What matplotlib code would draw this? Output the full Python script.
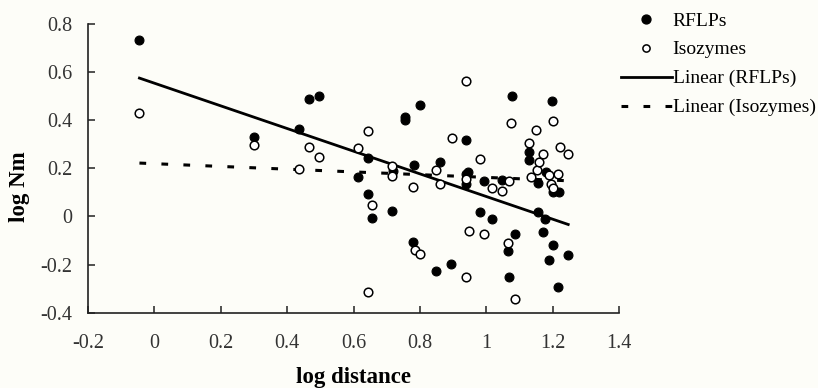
import matplotlib
matplotlib.use("Agg")
import matplotlib.pyplot as plt
import numpy as np
from matplotlib.lines import Line2D

plt.rcParams['font.family'] = ['Liberation Serif', 'DejaVu Serif']

# --- data ---
rflp_x = [-0.045, 0.300, 0.436, 0.466, 0.495, 0.614, 0.643, 0.643, 0.655, 0.716,
          0.718, 0.755, 0.755, 0.783, 0.800, 0.778, 0.850, 0.862, 0.895, 0.940,
          0.944, 0.940, 0.939, 0.980, 0.993, 1.016, 1.046, 1.066, 1.070, 1.079,
          1.087, 1.130, 1.130, 1.156, 1.156, 1.171, 1.178, 1.181, 1.188, 1.198,
          1.200, 1.200, 1.216, 1.220, 1.247]
rflp_y = [0.735, 0.332, 0.362, 0.487, 0.500, 0.166, 0.241, 0.093, -0.006, 0.021,
          0.190, 0.415, 0.400, 0.216, 0.462, -0.105, -0.226, 0.226, -0.196, 0.319,
          0.185, 0.175, 0.133, 0.017, 0.146, -0.011, 0.150, -0.145, -0.250, 0.501,
          -0.071, 0.270, 0.235, 0.140, 0.019, -0.066, -0.010, 0.183, -0.180, 0.482,
          -0.120, 0.100, -0.293, 0.100, -0.160]

iso_x = [-0.045, 0.300, 0.436, 0.466, 0.495, 0.614, 0.643, 0.655, 0.643, 0.717,
         0.717, 0.778, 0.784, 0.800, 0.850, 0.862, 0.896, 0.939, 0.940, 0.947,
         0.938, 0.980, 0.994, 1.016, 1.048, 1.066, 1.068, 1.076, 1.086, 1.130,
         1.136, 1.153, 1.150, 1.160, 1.171, 1.190, 1.195, 1.202, 1.215, 1.221,
         1.247, 1.200]
iso_y = [0.432, 0.295, 0.197, 0.288, 0.249, 0.286, 0.354, 0.049, -0.313, 0.211,
         0.168, 0.121, -0.138, -0.157, 0.195, 0.137, 0.327, 0.563, 0.156, -0.059,
         -0.253, 0.237, -0.071, 0.120, 0.105, -0.110, 0.146, 0.388, -0.342, 0.304,
         0.162, 0.195, 0.360, 0.226, 0.258, 0.172, 0.135, 0.398, 0.178, 0.290,
         0.260, 0.120]

# linear trendlines (slope, intercept) as shown on the chart
rflp_fit = (-0.471, 0.554)
iso_fit = (-0.057, 0.2194)

x_ticks = [-0.2, 0, 0.2, 0.4, 0.6, 0.8, 1, 1.2, 1.4]
x_tick_labels = ['-0.2', '0', '0.2', '0.4', '0.6', '0.8', '1', '1.2', '1.4']
y_ticks = [-0.4, -0.2, 0, 0.2, 0.4, 0.6, 0.8]
y_tick_labels = ['-0.4', '-0.2', '0', '0.2', '0.4', '0.6', '0.8']

bg = '#fdfdf8'
fig = plt.figure(figsize=(8.18, 3.88), dpi=100, facecolor=bg)
ax = fig.add_axes([88/818, 1-312.7/388, (619-88)/818, (312.7-24)/388])
ax.set_facecolor(bg)

ax.plot(rflp_x, rflp_y, 'o', ms=6.4, mfc='black', mec='black', mew=0.8,
        linestyle='none', zorder=3)
ax.plot(iso_x, iso_y, 'o', ms=6.2, mfc='white', mec='black', mew=1.1,
        linestyle='none', zorder=3)

xr = np.array([min(rflp_x), max(rflp_x)])
ax.plot(xr, rflp_fit[0]*xr + rflp_fit[1], '-', color='black', lw=2.0, zorder=2)
xi = np.array([min(iso_x), max(iso_x)])
ax.plot(xi, iso_fit[0]*xi + iso_fit[1], color='black', lw=2.2,
        dashes=(2.2, 5.0), zorder=2)

ax.set_xlim(-0.2, 1.4)
ax.set_ylim(-0.4, 0.8)
ax.set_xticks(x_ticks)
ax.set_xticklabels(x_tick_labels)
ax.set_yticks(y_ticks)
ax.set_yticklabels(y_tick_labels)
for s in ['top', 'right']:
    ax.spines[s].set_visible(False)
for s in ['left', 'bottom']:
    ax.spines[s].set_linewidth(1.2)
    ax.spines[s].set_color('#222222')
ax.tick_params(axis='x', direction='in', length=5, width=1.2, pad=15,
               labelsize=14.5, colors='#333333')
ax.tick_params(axis='y', direction='in', length=5, width=1.2, pad=11,
               labelsize=14.5, colors='#333333')

fig.text(353.5/818, 1-378/388, 'log distance', ha='center', va='center',
         fontsize=16.5, fontweight='bold')
fig.text(20/818, 1-187/388, 'log Nm', ha='center', va='center',
         rotation=90, fontsize=16.5, fontweight='bold')

handles = [
    Line2D([], [], marker='o', ls='none', ms=6.4, mfc='black', mec='black'),
    Line2D([], [], marker='o', ls='none', ms=5.2, mfc='white', mec='black', mew=1.1),
    Line2D([], [], color='black', lw=2.0),
    Line2D([], [], color='black', lw=2.2, dashes=(2.2, 5.0)),
]
labels = ['RFLPs', 'Isozymes', 'Linear (RFLPs)', 'Linear (Isozymes)']
fig.legend(handles, labels, loc='upper left',
           bbox_to_anchor=(621/818, 1-12/388), frameon=False,
           fontsize=14, handlelength=2.6, handletextpad=0.05,
           labelspacing=0.58, borderpad=0, borderaxespad=0)

fig.savefig('out.png', dpi=100, facecolor=bg)
